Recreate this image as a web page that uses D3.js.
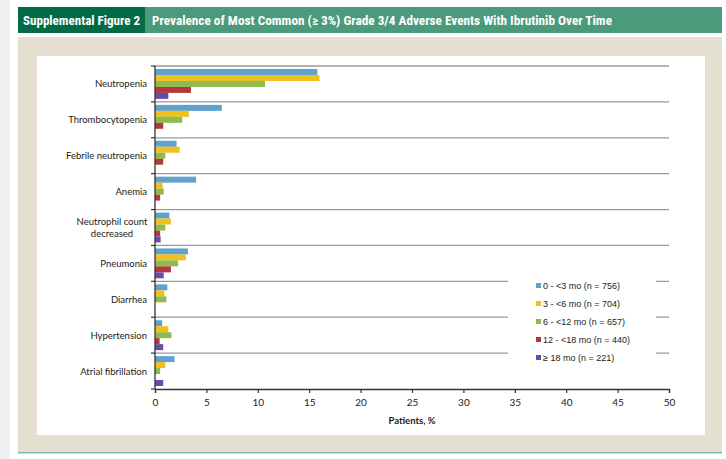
<!DOCTYPE html>
<html>
<head>
<meta charset="utf-8">
<script src="https://cdn.jsdelivr.net/npm/d3@7"></script>
<style>
  html, body { margin: 0; padding: 0; background: #ffffff; }
  svg { display: block; }
</style>
</head>
<body>
<svg id="fig" width="726" height="459"></svg>
<script>
// Adverse events (categories, top to bottom)
const categories = [
  "Neutropenia", "Thrombocytopenia", "Febrile neutropenia", "Anemia",
  "Neutrophil count decreased", "Pneumonia", "Diarrhea", "Hypertension",
  "Atrial fibrillation"
];
// Time-window series
const seriesNames = [
  "0 - <3 mo (n = 756)", "3 - <6 mo (n = 704)", "6 - <12 mo (n = 657)",
  "12 - <18 mo (n = 440)", "\u2265 18 mo (n = 221)"
];
// Patients, % per series, in category order
const v0to3   = [15.8, 6.5, 2.1, 4.0, 1.4, 3.2, 1.2, 0.7, 1.9];
const v3to6   = [16.0, 3.3, 2.4, 0.75, 1.55, 3.0, 0.9, 1.3, 1.0];
const v6to12  = [10.7, 2.65, 1.0, 0.85, 1.0, 2.25, 1.1, 1.6, 0.5];
const v12to18 = [3.5, 0.8, 0.8, 0.5, 0.5, 1.55, 0, 0.45, 0];
const v18plus = [1.3, 0, 0, 0, 0.55, 0.85, 0, 0.8, 0.8];
const seriesValues = [v0to3, v3to6, v6to12, v12to18, v18plus];
const seriesColors = ["#5fa3cc", "#efc11f", "#8fbb4c", "#b4393e", "#6a4ba6"];
const xTicks = [0, 5, 10, 15, 20, 25, 30, 35, 40, 45, 50];

const svg = d3.select("#fig");
const labelFont = "Lato, 'Open Sans', sans-serif";
const headFont = "'Liberation Sans Narrow', 'Roboto Condensed', 'Liberation Sans', sans-serif";

// Page furniture: side strip, header bar, beige frame, white chart panel
svg.append("rect").attr("x", 0).attr("y", 0).attr("width", 10).attr("height", 459).attr("fill", "#efefef");
svg.append("rect").attr("x", 18).attr("y", 7).attr("width", 704).attr("height", 26).attr("fill", "#4a9a7b");
svg.append("rect").attr("x", 18).attr("y", 7).attr("width", 127).attr("height", 26).attr("fill", "#006b45");
svg.append("text").attr("x", 23).attr("y", 24.5)
  .attr("font-family", headFont).attr("font-weight", "bold").attr("font-size", 13)
  .attr("textLength", 117).attr("lengthAdjust", "spacingAndGlyphs")
  .attr("fill", "#ffffff").text("Supplemental Figure 2");
svg.append("text").attr("x", 152).attr("y", 24.5)
  .attr("font-family", headFont).attr("font-weight", "bold").attr("font-size", 13)
  .attr("textLength", 460).attr("lengthAdjust", "spacingAndGlyphs")
  .attr("fill", "#ffffff")
  .text("Prevalence of Most Common (\u2265 3%) Grade 3/4 Adverse Events With Ibrutinib Over Time");
svg.append("rect").attr("x", 18).attr("y", 37).attr("width", 704).attr("height", 415).attr("fill", "#e5dfd2");
svg.append("rect").attr("x", 18).attr("y", 452).attr("width", 704).attr("height", 1.5).attr("fill", "#74bfa2");
svg.append("rect").attr("x", 37).attr("y", 56).attr("width", 668).attr("height", 379).attr("fill", "#ffffff");

// Scales
const x = d3.scaleLinear().domain([0, 50]).range([155, 669]);
const y = d3.scaleBand().domain(categories).range([66, 389]).paddingInner(0).paddingOuter(0);
const bandH = y.bandwidth();
const ySub = d3.scaleBand().domain(d3.range(seriesNames.length)).range([3, bandH - 3]);

// Horizontal separators at category boundaries
const boundaries = categories.map(c => y(c));
svg.append("g").selectAll("line").data(boundaries).join("line")
  .attr("x1", x(0)).attr("x2", x(50))
  .attr("y1", d => d).attr("y2", d => d)
  .attr("stroke", "#9a9a9a").attr("stroke-width", 1.3);

// Bars
const g = svg.append("g");
categories.forEach((cat, ci) => {
  seriesValues.forEach((vals, si) => {
    const val = vals[ci];
    if (val <= 0) return;
    g.append("rect")
      .attr("x", x(0))
      .attr("y", y(cat) + ySub(si))
      .attr("width", x(val) - x(0))
      .attr("height", ySub.bandwidth())
      .attr("fill", seriesColors[si]);
  });
});

// Legend (white box covers the separators behind it)
const lg = svg.append("g");
lg.append("rect").attr("x", 508).attr("y", 272).attr("width", 148).attr("height", 98).attr("fill", "#ffffff");
seriesNames.forEach((name, i) => {
  const ly = 285.5 + i * 18;
  lg.append("rect").attr("x", 536).attr("y", ly - 2.5).attr("width", 5).attr("height", 5).attr("fill", seriesColors[i]);
  lg.append("text").attr("x", 543).attr("y", ly + 3.3)
    .attr("font-family", "'Liberation Sans', Arial, sans-serif").attr("font-size", 9)
    .attr("fill", "#222").text(name);
});

// Y axis: line and ticks at category boundaries
const yAxisG = svg.append("g");
yAxisG.append("line").attr("x1", x(0)).attr("x2", x(0)).attr("y1", 66).attr("y2", 389)
  .attr("stroke", "#333").attr("stroke-width", 1.3);
yAxisG.selectAll("line.tk").data(boundaries.concat([389])).join("line").attr("class", "tk")
  .attr("x1", x(0) - 4).attr("x2", x(0)).attr("y1", d => d).attr("y2", d => d)
  .attr("stroke", "#333").attr("stroke-width", 1.2);

// Category labels
const catLabels = svg.append("g").attr("font-family", labelFont).attr("font-size", 9.5).attr("fill", "#1a1a1a");
categories.forEach(cat => {
  const cy = y(cat) + bandH / 2;
  if (cat === "Neutrophil count decreased") {
    const t = catLabels.append("text").attr("text-anchor", "middle").attr("x", 112).attr("y", cy - 3);
    t.append("tspan").attr("x", 112).text("Neutrophil count");
    t.append("tspan").attr("x", 112).attr("dy", 12.5).text("decreased");
  } else {
    catLabels.append("text").attr("text-anchor", "end").attr("x", 147).attr("y", cy + 3.5).text(cat);
  }
});

// X axis
const xAxis = d3.axisBottom(x).tickValues(xTicks).tickSize(4).tickPadding(6).tickFormat(d3.format("d"));
const xg = svg.append("g").attr("transform", "translate(0,389)").call(xAxis);
xg.select(".domain").attr("stroke", "#333").attr("stroke-width", 1.3);
xg.selectAll(".tick line").attr("stroke", "#333").attr("stroke-width", 1.2);
xg.selectAll(".tick text").attr("font-family", labelFont).attr("font-size", 10).attr("fill", "#1a1a1a");

svg.append("text").attr("x", x(25)).attr("y", 424).attr("text-anchor", "middle")
  .attr("font-family", labelFont).attr("font-weight", "bold").attr("font-size", 9.5)
  .attr("fill", "#1a1a1a").text("Patients, %");
</script>
</body>
</html>
